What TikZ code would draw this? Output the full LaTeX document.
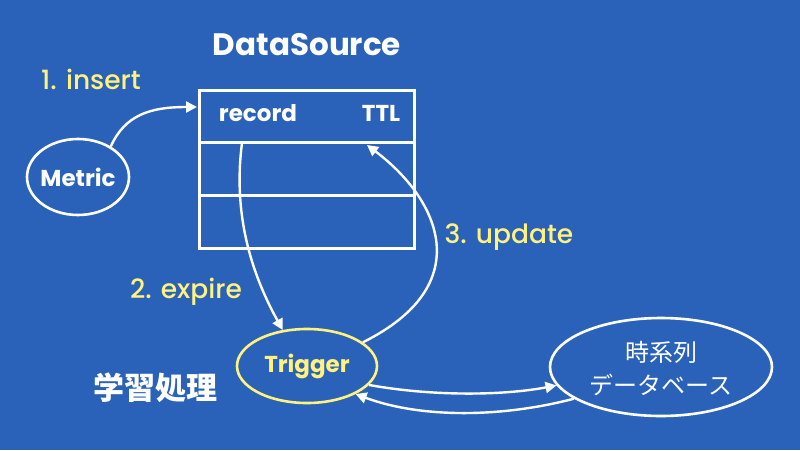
\documentclass[tikz,border=0pt]{standalone}
\usepackage{fontspec}
\setmainfont{Poppins}
\newfontfamily\med{Poppins Medium}
\newfontfamily\jp{Noto Sans CJK JP}
\usetikzlibrary{arrows.meta,shapes.geometric}
\definecolor{bg}{RGB}{43,98,185}
\definecolor{yel}{RGB}{255,242,125}
\begin{document}
\begin{tikzpicture}[x=1pt,y=-1pt,
  lbl/.style={text=yel,font=\med\fontsize{26.5}{30}\selectfont},
  bold/.style={text=white,font=\bfseries\fontsize{23}{26}\selectfont},
  ell/.style={draw=white,ellipse,line width=2.6pt,inner sep=0pt},
  arr/.style={draw=white,line width=2.4pt,-{Triangle[length=11pt,width=11pt]}},
  grid/.style={draw=white,line width=3pt}]
\fill[bg] (0,0) rectangle (800,450);
\useasboundingbox (0,0) rectangle (800,450);

\node[text=white,font=\bfseries\fontsize{31}{34}\selectfont] (title) at (307,45) {DataSource};
\node[grid,minimum width=215pt,minimum height=158pt,inner sep=0pt] (tbl) at (307,169) {};
\coordinate (l1w) at (200,142); \coordinate (l1e) at (414,142);
\coordinate (l2w) at (200,195); \coordinate (l2e) at (414,195);
\draw[grid] (l1w) -- (l1e);
\draw[grid] (l2w) -- (l2e);
\node[bold] (rec) at (258,113) {record};
\node[bold] (ttl) at (381,113) {TTL};
\coordinate (recout) at (242,143);
\coordinate (ttlin) at (367,145);
\coordinate (tblin) at (197,107);

\node[ell,minimum width=102pt,minimum height=76pt] (metric) at (78,177) {};
\node[bold] at (metric.center) {Metric};

\node[ell,draw=yel,minimum width=140pt,minimum height=74pt] (trig) at (307,366) {};
\node[bold,text=yel] at (trig.center) {Trigger};

\node[ell,minimum width=222pt,minimum height=98pt] (db) at (661,367) {};
\node[text=white,font=\jp\fontsize{24}{28}\selectfont] (db1) at (661,352) {時系列};
\node[text=white,font=\jp\fontsize{24}{28}\selectfont] (db2) at (661,385) {データベース};

\node[lbl] (l1) at (91,79) {1. insert};
\node[lbl] (l2) at (186,292) {2. expire};
\node[lbl] (l3) at (509,237) {3. update};
\node[text=white,font=\jp\bfseries\fontsize{31}{34}\selectfont] (gaku) at (155,388) {学習処理};

\draw[arr] (metric.43) .. controls (125,115) and (150,107) .. (tblin);
\draw[arr] (recout) .. controls (232,220) and (255,280) .. (trig.124);
\draw[arr] (trig.23) .. controls (478,285) and (440,200) .. (ttlin);
\draw[arr] (trig.-17) .. controls (430,396) and (500,396) .. (db.190);
\draw[arr] (db.200) .. controls (500,418) and (420,418) .. (trig.-30);
\end{tikzpicture}
\end{document}
